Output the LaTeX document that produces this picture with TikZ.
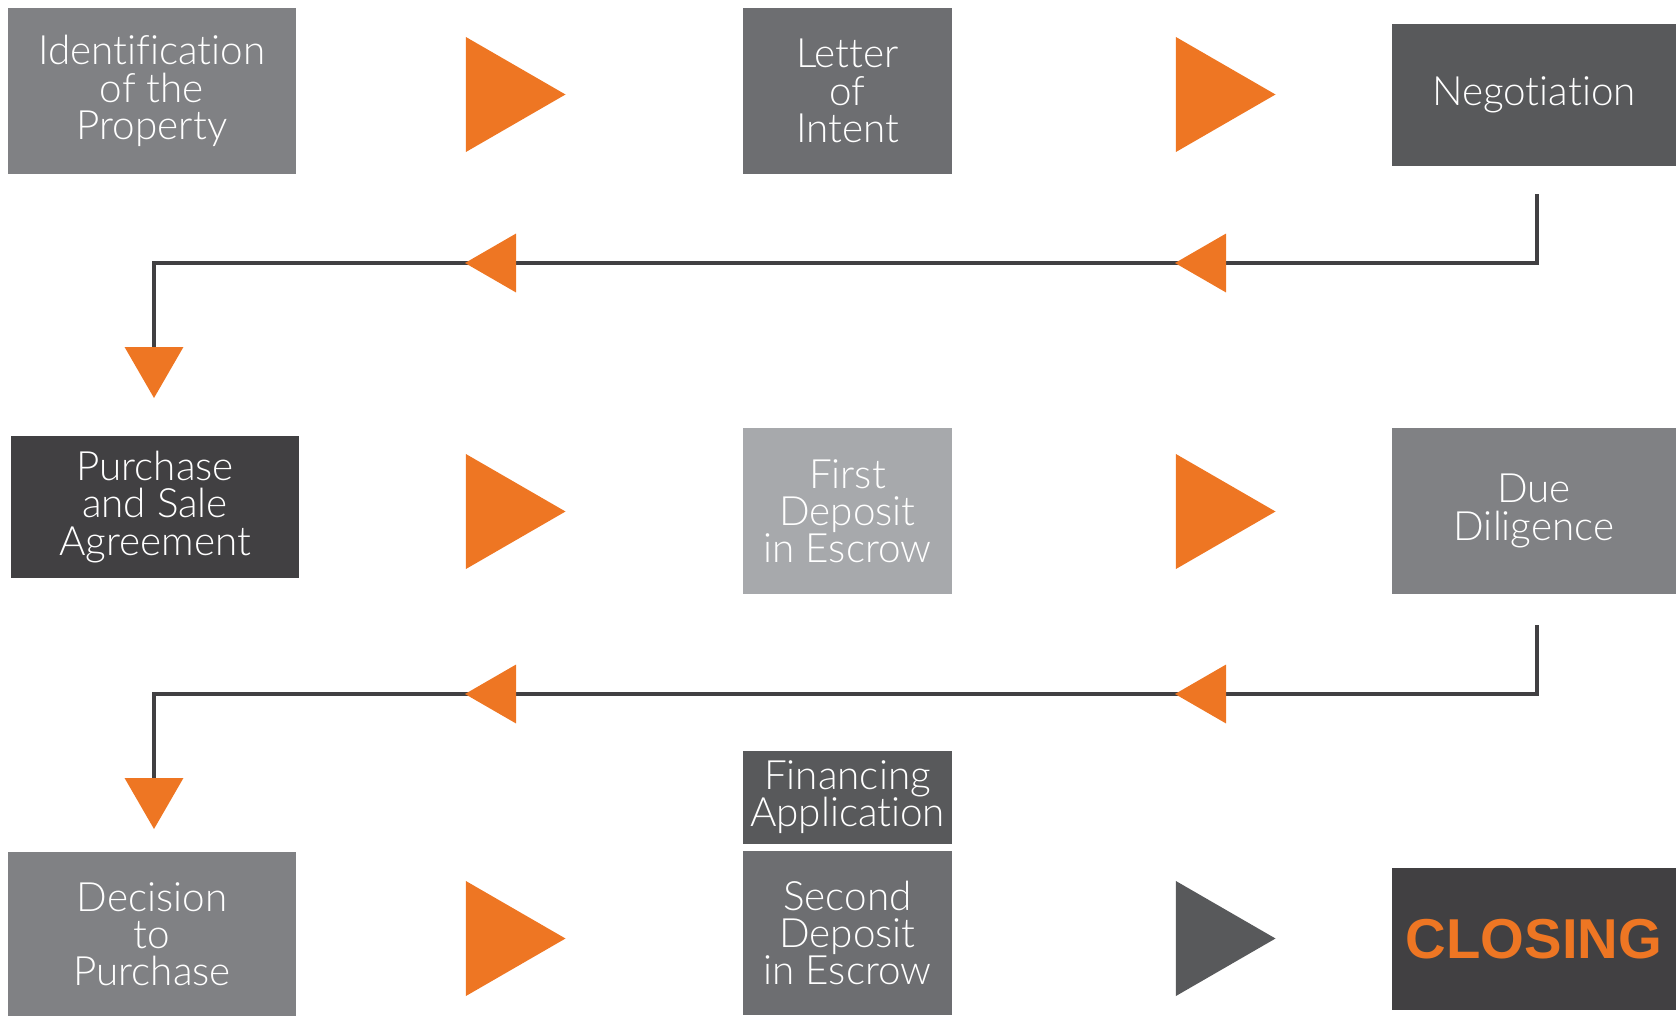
\documentclass[tikz,border=0pt]{standalone}
\usepackage{fontspec}
\IfFontExistsTF{Lato Light}{\setmainfont{Lato Light}[Ligatures=NoCommon]}{%
  \IfFontExistsTF{Fira Sans Light}{\setmainfont{Fira Sans Light}}{\setmainfont{TeX Gyre Heros}}}
\newfontfamily\closefont{Liberation Sans}
\usepackage{tikz}
\usetikzlibrary{shapes.geometric, backgrounds}
\definecolor{flowOrange}{HTML}{EE7623}
\definecolor{grayA}{HTML}{A7A9AC}
\definecolor{grayB}{HTML}{808184}
\definecolor{grayC}{HTML}{6D6E71}
\definecolor{grayD}{HTML}{58595B}
\definecolor{grayE}{HTML}{414042}
\tikzset{
  stepbox/.style={
    rectangle, inner sep=0pt, outer sep=0pt, align=center,
    text=white, font=\fontsize{11.5}{10.6}\selectfont
  },
  widebox/.style={stepbox, minimum width=28.8mm, minimum height=16.6mm},
  slimbox/.style={stepbox, minimum width=20.9mm, minimum height=16.6mm},
  flatbox/.style={stepbox, minimum width=28.4mm, minimum height=14.2mm},
  pointer/.style={regular polygon, regular polygon sides=3, inner sep=0pt, outer sep=0pt, fill=flowOrange},
  bigpointer/.style={pointer, minimum size=13.3mm, regular polygon rotate=-90},
  leftpointer/.style={pointer, minimum size=6.8mm, regular polygon rotate=90},
  downpointer/.style={pointer, minimum size=6.8mm, regular polygon rotate=180},
  link/.style={draw=grayE, line width=1pt},
}
\begin{document}
\begin{tikzpicture}[x=0.1mm, y=-0.1mm]
  \useasboundingbox (0,0) rectangle (1676,1015);
  % first row
  \node[widebox, fill=grayB] (ident) at (152,91) {Identification\\of the\\Property};
  \node[slimbox, fill=grayC] (loi) at (847.5,91) {Letter\\of\\Intent};
  \node[flatbox, fill=grayD] (nego) at (1534,95) {Negotiation};
  \node[bigpointer] (r1) at (499,94.5) {};
  \node[bigpointer] (r2) at (1209,94.5) {};
  \node[leftpointer] (l1) at (499,263) {};
  \node[leftpointer] (l2) at (1209,263) {};
  \node[downpointer] (d1) at (154,364) {};
  % second row
  \node[flatbox, fill=grayE, minimum width=28.8mm] (psa) at (155,507) {Purchase\\and Sale\\Agreement};
  \node[slimbox, fill=grayA] (dep1) at (847.5,511) {First\\Deposit\\in Escrow};
  \node[flatbox, fill=grayB, minimum height=16.6mm] (dd) at (1534,511) {Due\\Diligence};
  \node[bigpointer] (r3) at (499,511.5) {};
  \node[bigpointer] (r4) at (1209,511.5) {};
  \node[leftpointer] (l3) at (499,694) {};
  \node[leftpointer] (l4) at (1209,694) {};
  \node[downpointer] (d2) at (154,795) {};
  % third row
  \node[widebox, fill=grayB, minimum height=16.4mm] (dec) at (152,934) {Decision\\to\\Purchase};
  \node[slimbox, fill=grayD, minimum height=9.3mm] (fin) at (847.5,797) {Financing\\Application};
  \node[slimbox, fill=grayC, minimum height=16.4mm] (dep2) at (847.5,933) {Second\\Deposit\\in Escrow};
  \node[flatbox, fill=grayE, font=\closefont\bfseries\fontsize{16}{16}\selectfont, text=flowOrange] (close) at (1534,939) {CLOSING};
  \node[bigpointer] (r5) at (499,938.5) {};
  \node[bigpointer, fill=grayD] (r6) at (1209,938.5) {};
  % return lines
  \begin{scope}[on background layer]
    \draw[link] ([xshift=0.3mm, yshift=-2.8mm]nego.south) |- (l2.center) -- (l1.center) -| (d1.north);
    \draw[link] ([xshift=0.3mm, yshift=-3.1mm]dd.south) |- (l4.center) -- (l3.center) -| (d2.north);
  \end{scope}
\end{tikzpicture}
\end{document}
